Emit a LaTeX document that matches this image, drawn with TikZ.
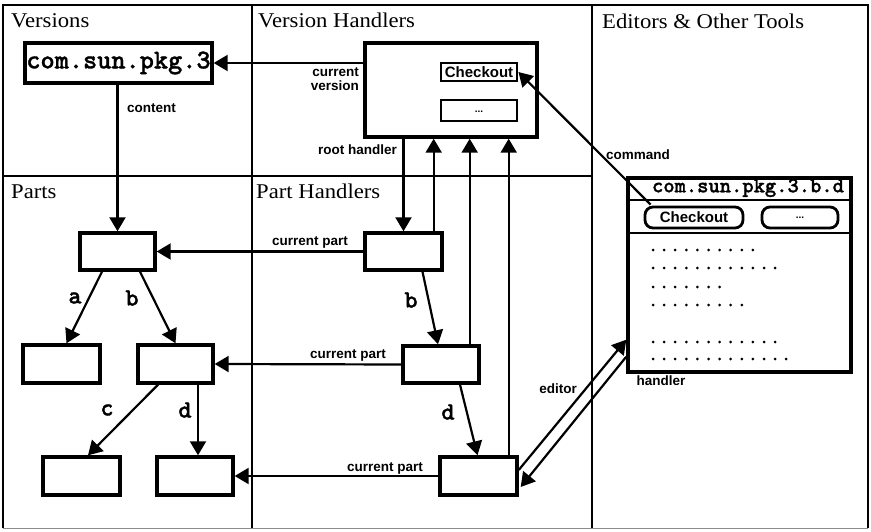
\documentclass[tikz,border=0pt]{standalone}
\usepackage{fontspec}
\setmainfont{Liberation Serif}
\setsansfont{Liberation Sans}
\newfontfamily\ttl{Liberation Serif}[FakeStretch=1.08]
\newfontfamily\cour{lmmonolt10-bold}[Extension=.otf, FakeBold=1.2]
\usetikzlibrary{arrows.meta,calc}
\begin{document}
\begin{tikzpicture}[x=1pt,y=-1pt,
  frame/.style={line width=2pt},
  box/.style={draw, line width=3.4pt, inner sep=0pt},
  conn/.style={line width=2.2pt},
  arr/.style={conn, -{Triangle[length=14pt,width=16pt]}},
  title/.style={anchor=base west, inner sep=0pt, font=\ttl\fontsize{21}{24}\selectfont},
  lab/.style={inner sep=0pt, font=\sffamily\bfseries\fontsize{13.5}{14.5}\selectfont},
  elab/.style={inner sep=0pt, font=\cour\fontsize{25}{25}\selectfont},
]
\useasboundingbox (0,0) rectangle (871,532);
% frame
\draw[frame] (3,528) -- (3,5) -- (868,5) -- (868,528);
\draw[line width=1pt, black!45] (3,528) -- (868,528);
\draw[frame] (252,5) -- (252,528);
\draw[frame] (592,5) -- (592,528);
\draw[frame] (3,176) -- (592,176);
% titles
\node[title] (tv) at (11,28) {Versions};
\node[title] (tvh) at (258,28) {Version Handlers};
\node[title] (tet) at (602,29) {Editors \& Other Tools};
\node[title] (tp) at (11,199) {Parts};
\node[title] (tph) at (256,199) {Part Handlers};
% versions
\node[box, minimum width=187pt, minimum height=40pt, font=\cour\fontsize{27}{27}\selectfont] (pkg) at (118.5,63) {com.sun.pkg.3};
% version handler
\node[box, minimum width=172pt, minimum height=94pt] (vh) at (451,90) {};
\node[box, line width=2.8pt, minimum width=76pt, minimum height=18pt, font=\sffamily\bfseries\fontsize{15}{15}\selectfont] (vco) at (479,72) {Checkout};
\node[box, line width=2.8pt, minimum width=76pt, minimum height=21pt, font=\sffamily\bfseries\fontsize{10}{10}\selectfont] (vdots) at (479,110.5) {\raisebox{-4pt}{...}};
% parts
\node[box, minimum width=75pt, minimum height=37pt] (p1) at (117.5,251.5) {};
\node[box, minimum width=77pt, minimum height=38pt] (p2) at (61.5,364) {};
\node[box, minimum width=75pt, minimum height=38pt] (p3) at (175.5,364) {};
\node[box, minimum width=77pt, minimum height=38pt] (p4) at (81.5,476) {};
\node[box, minimum width=76pt, minimum height=38pt] (p5) at (195,476) {};
% part handlers
\node[box, minimum width=77pt, minimum height=37pt] (ph1) at (403.5,251.5) {};
\node[box, minimum width=76pt, minimum height=37pt] (ph2) at (441,364.5) {};
\node[box, minimum width=77pt, minimum height=38pt] (ph3) at (478.5,476) {};
% editor window
\node[box, minimum width=223pt, minimum height=194pt] (ed) at (739.5,275) {};
\draw[line width=2.8pt] (ed.west |- 0,200) -- (ed.east |- 0,200);
\draw[line width=2.8pt] (ed.west |- 0,233) -- (ed.east |- 0,233);
\node[inner sep=0pt, font=\cour\fontsize{21.5}{22}\selectfont] (edt) at (748,188) {com.sun.pkg.3.b.d};
\node[box, line width=2.8pt, rounded corners=8pt, minimum width=98pt, minimum height=21pt, font=\sffamily\bfseries\fontsize{15}{15}\selectfont] (eco) at (694,217.5) {Checkout};
\node[box, line width=2.8pt, rounded corners=8pt, minimum width=76pt, minimum height=21pt, font=\sffamily\bfseries\fontsize{10}{10}\selectfont] (edd) at (800,217.5) {...};
\foreach \n/\yy in {10/250,12/268,7/287,9/305,12/342,13/359} {
  \foreach \i in {1,...,\n} { \fill ({653+(\i-1)*11.1},\yy) circle (1.5); }
}
% connectors: versions
\draw[arr] (vh.west |- pkg.east) -- (pkg.east);
\node[lab, align=right, anchor=east] (lcv) at (359,79) {current\\version};
\draw[arr] (pkg.south -| p1.north) -- (p1.north);
\node[lab, anchor=west] (lcontent) at (127,108) {content};
\draw[arr] (vh.south -| ph1.north) -- (ph1.north);
\node[lab, anchor=east] (lroot) at (397,150) {root handler};
\coordinate (u1) at ($(ph1.north east)+(-10,0)$);
\coordinate (u2) at ($(ph2.north east)+(-11,0)$);
\coordinate (u3) at ($(ph3.north east)+(-10,0)$);
\draw[arr] (u1) -- (vh.south -| u1);
\draw[arr] (u2) -- (vh.south -| u2);
\draw[arr] (u3) -- (vh.south -| u3);
% handler tree
\draw[arr] ($(ph1.south)+(19,0)$) -- ($(ph2.north)+(-3,0)$);
\node[elab] (lhb) at (411,300) {b};
\draw[arr] ($(ph2.south)+(19,0)$) -- ($(ph3.north)+(-1,0)$);
\node[elab] (lhd) at (448,412) {d};
% current part
\draw[arr] (ph1.west) -- (p1.east);
\node[lab] (lcp1) at (310,242) {current part};
\draw[arr] (ph2.west) -- (p3.east);
\node[lab] (lcp2) at (348,355) {current part};
\draw[arr] (ph3.west) -- (p5.east);
\node[lab] (lcp3) at (385,468) {current part};
% parts tree
\draw[arr] ($(p1.south)+(-15.5,0)$) -- ($(p2.north)+(5,0)$);
\node[elab] (la) at (75,298) {a};
\draw[arr] ($(p1.south)+(22.5,0)$) -- (p3.north);
\node[elab] (lb) at (132,298) {b};
\draw[arr] ($(p3.south)+(-17.5,0)$) -- ($(p4.north)+(6.5,0)$);
\node[elab] (lc) at (107,410) {c};
\coordinate (dd) at ($(p5.north)+(3,0)$);
\draw[arr] (p3.south -| dd) -- (dd);
\node[elab] (ld) at (185,410) {d};
% command
\draw[arr] ($(eco.north west)+(7,-1)$) -- (vco.east);
\node[lab] (lcmd) at (638,155) {command};
% editor / handler
\draw[arr] ($(ph3.east)+(0,-6)$) -- ($(ed.south west)+(0,-34)$);
\draw[arr] ($(ed.south west)+(0,-17)$) -- ($(ph3.east)+(2,11)$);
\node[lab] (led) at (558,389) {editor};
\node[lab] (lhd2) at (661,381) {handler};
\end{tikzpicture}
\end{document}
